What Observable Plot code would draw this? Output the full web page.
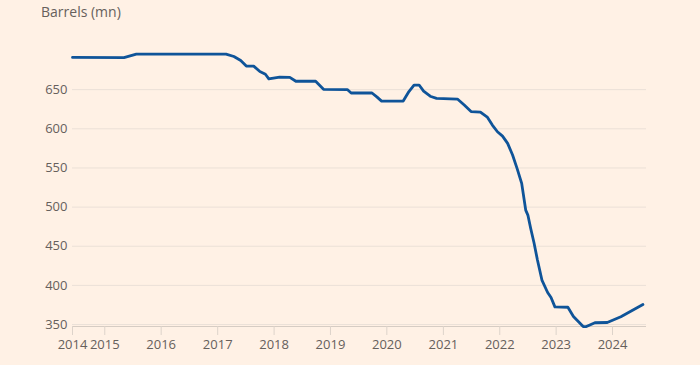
<!DOCTYPE html>
<html><head><meta charset="utf-8">
<script src="https://cdn.jsdelivr.net/npm/d3@7"></script>
<script src="https://cdn.jsdelivr.net/npm/@observablehq/plot@0.6"></script>
<style>
html,body{margin:0;padding:0;background:#fff1e5;}
#title{font-family:"Open Sans",sans-serif;font-size:14px;color:#66605c;height:24px;line-height:24px;padding-left:41px;white-space:nowrap;}
</style></head><body>
<div id="title">Barrels (mn)</div>
<div id="chart"></div>
<script>
const dates = ["2014-06-06","2015-05-05","2015-07-24","2017-02-24","2017-04-16","2017-05-30","2017-07-05","2017-08-22","2017-10-01","2017-11-06","2017-11-28","2018-02-06","2018-04-13","2018-05-22","2018-09-27","2018-11-17","2019-04-20","2019-05-15","2019-09-27","2019-10-30","2019-11-28","2020-04-16","2020-05-23","2020-06-25","2020-07-28","2020-08-26","2020-10-12","2020-11-18","2021-04-02","2021-05-16","2021-06-29","2021-08-29","2021-10-12","2021-11-14","2021-12-17","2022-01-19","2022-02-21","2022-03-25","2022-04-23","2022-05-23","2022-06-18","2022-07-02","2022-07-20","2022-08-11","2022-09-02","2022-10-01","2022-11-07","2022-11-29","2022-12-24","2023-03-18","2023-04-23","2023-06-25","2023-07-16","2023-09-09","2023-11-28","2024-02-24","2024-07-16"];
const barrels = [691.2,691.0,695.4,695.4,692.3,687.2,680.1,680.0,673.1,669.7,663.8,666.1,665.7,660.7,660.7,650.4,650.1,645.7,645.7,640.5,635.4,635.4,647.6,655.9,655.9,648.2,641.2,638.9,638.0,630.3,622.0,621.4,615.0,604.8,596.2,590.7,581.4,566.5,549.5,530.3,496.2,489.8,472.9,454.1,432.4,406.8,390.9,384.5,372.6,372.1,360.2,347.4,347.4,352.3,352.6,360.0,375.5];
const yTicks = [350,400,450,500,550,600,650];
const xStart = "2014-06-06";
const xEnd = "2024-08-08";
const yearTicks = ["2015","2016","2017","2018","2019","2020","2021","2022","2023","2024"];
const yMin = 347.5, yMax = 700;

const data = dates.map((d,i) => ({date: new Date(d), value: barrels[i]}));
const xTicks = [new Date(xStart), ...yearTicks.map(y => new Date(y + "-01-01"))];

const chart = Plot.plot({
  width: 700,
  height: 341,
  marginTop: 26,
  marginBottom: 39,
  marginLeft: 72,
  marginRight: 54,
  style: {background: "#fff1e5", color: "#66605c", fontFamily: "'Open Sans', sans-serif", fontSize: "13px"},
  x: {type: "utc", domain: [new Date(xStart), new Date(xEnd)]},
  y: {domain: [yMin, yMax]},
  marks: [
    Plot.ruleY(yTicks, {stroke: "#ebe0d7", strokeWidth: 1}),
    Plot.ruleY([yMin], {stroke: "#d6ccc3", strokeWidth: 1}),
    Plot.axisY({ticks: yTicks, tickSize: 0, tickPadding: 5, label: null, fill: "#66605c"}),
    Plot.axisX({ticks: xTicks, tickFormat: d3.utcFormat("%Y"), tickSize: 9, tickPadding: 4, label: null, stroke: "#ddd3ca", fill: "#66605c"}),
    Plot.line(data, {x: "date", y: "value", stroke: "#0f5499", strokeWidth: 2.8, curve: "linear"})
  ]
});
document.getElementById("chart").appendChild(chart);
</script>
</body></html>
